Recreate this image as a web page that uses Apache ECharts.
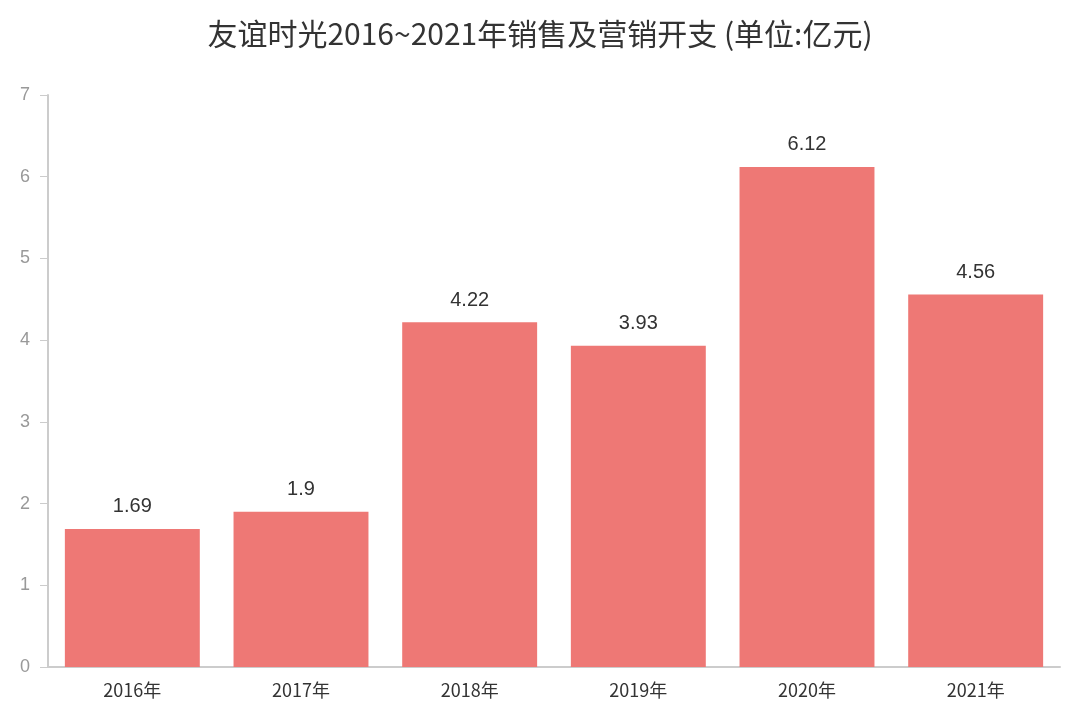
<!DOCTYPE html>
<html>
<head>
<meta charset="utf-8">
<script src="https://cdn.jsdelivr.net/npm/echarts@6/dist/echarts.min.js"></script>
<style>html,body{margin:0;padding:0;background:#fff}</style>
</head>
<body>
<div id="main" style="width:1080px;height:716px"></div>
<script>
const years = ['2016年', '2017年', '2018年', '2019年', '2020年', '2021年'];
const spending = [1.69, 1.9, 4.22, 3.93, 6.12, 4.56];

let myChart = echarts.init(document.getElementById('main'));
const option = {
    title: {
        text: '友谊时光2016~2021年销售及营销开支 (单位:亿元)',
        left: 'center',
        top: 14,
        textStyle: {fontSize: 30, fontWeight: 'normal', color: '#333', fontFamily: 'Noto Sans CJK SC'}
    },
    grid: {left: 48, right: 20, top: 95, bottom: 49},
    xAxis: {
        type: 'category',
        data: years,
        axisLine: {lineStyle: {color: '#ccc', width: 2}},
        axisTick: {inside: true, length: 10, lineStyle: {color: '#ccc'}},
        axisLabel: {color: '#333', fontSize: 18, margin: 14, fontFamily: 'Noto Sans CJK SC'}
    },
    yAxis: {
        type: 'value',
        min: 0, max: 7, interval: 1,
        axisLine: {show: true, lineStyle: {color: '#ccc', width: 2}},
        axisTick: {show: true, length: 8, lineStyle: {color: '#ccc'}},
        splitLine: {show: false},
        axisLabel: {color: '#999', fontSize: 18, margin: 18}
    },
    series: [{
        type: 'bar',
        data: spending,
        barCategoryGap: '20%',
        itemStyle: {color: '#EE7875'},
        label: {show: true, position: 'top', distance: 12, color: '#333', fontSize: 20}
    }]
};
myChart.setOption(option);
</script>
</body>
</html>
